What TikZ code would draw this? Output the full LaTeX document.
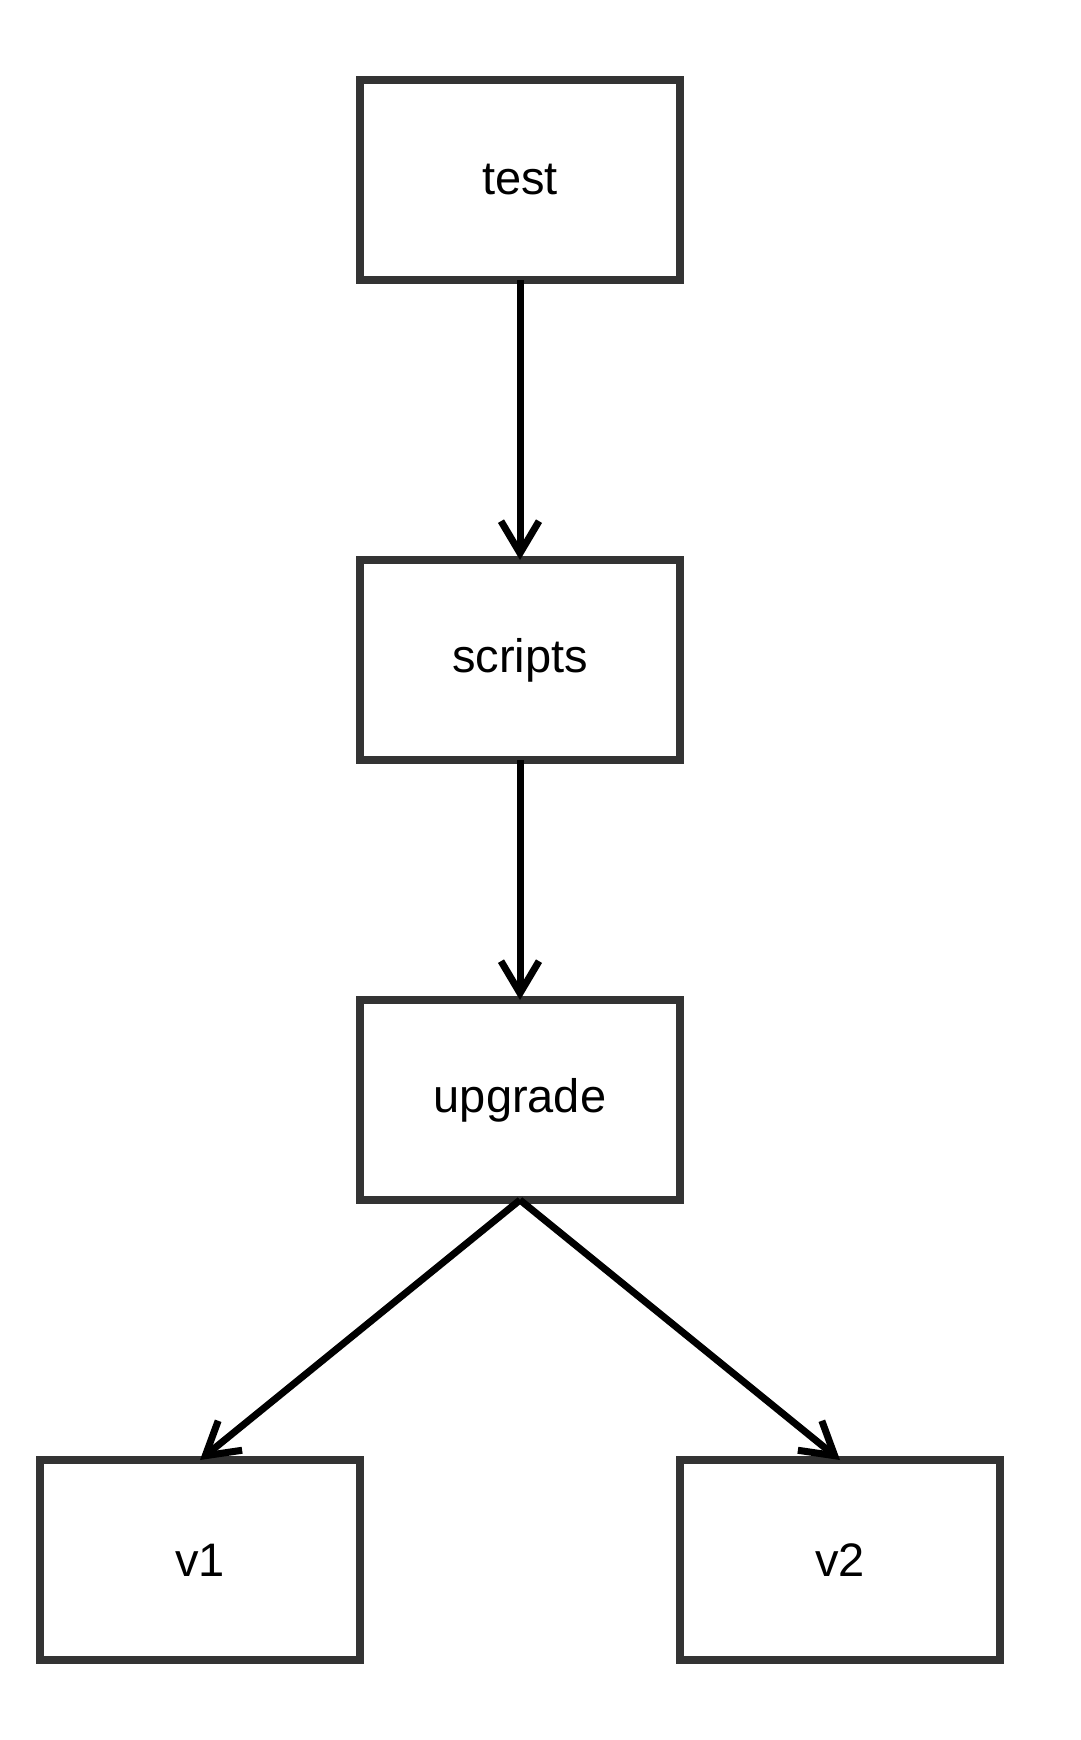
\documentclass[tikz,border=0pt]{standalone}
\usepackage{fontspec}
\setmainfont{Liberation Sans}
\usetikzlibrary{arrows.meta}
\definecolor{boxline}{HTML}{333333}
\begin{document}
\begin{tikzpicture}[x=1pt,y=-1pt,
  box/.style={draw=boxline,line width=8pt,minimum width=320pt,minimum height=200pt,inner sep=0pt,outer sep=0pt,font=\fontsize{47}{56}\selectfont,fill=white},
  conn/.style={line width=7pt,-{Straight Barb[length=32pt,width=38pt,line width=7pt]}}]
\useasboundingbox (0,0) rectangle (1080,1740);
\node[box] (test) at (520,180) {test};
\node[box] (scripts) at (520,660) {scripts};
\node[box] (upgrade) at (520,1100) {upgrade};
\node[box] (v1) at (200,1560) {v1};
\node[box] (v2) at (840,1560) {v2};
\draw[conn] (test.south) -- (scripts.north);
\draw[conn] (scripts.south) -- (upgrade.north);
\draw[conn] (upgrade.south) -- (v1.north);
\draw[conn] (upgrade.south) -- (v2.north);
\end{tikzpicture}
\end{document}
